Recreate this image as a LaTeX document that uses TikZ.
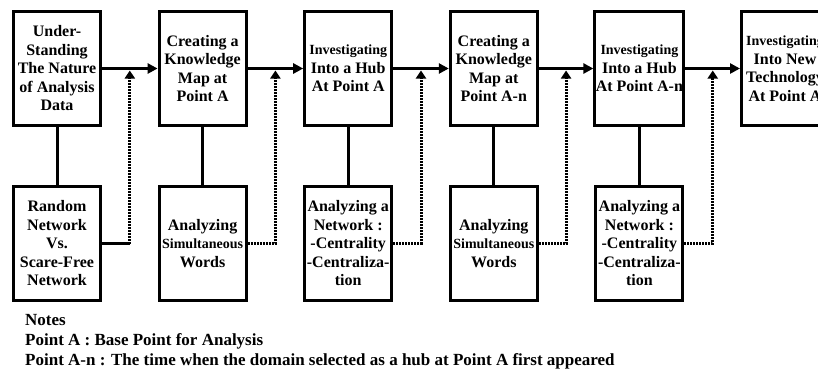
\documentclass[tikz,border=0pt]{standalone}
\usepackage{fontspec}
\setmainfont{Liberation Serif}
\usetikzlibrary{arrows.meta,calc}
\tikzset{
  stage/.style={draw,line width=3pt,minimum width=87pt,minimum height=114pt,inner sep=1pt,
    align=center,font=\fontsize{16}{18.5}\selectfont\bfseries},
  link/.style={line width=3pt},
  flow/.style={line width=3pt,-{Triangle[length=10pt,width=10pt]}},
  feed/.style={line width=3pt,dash pattern=on 2pt off 1pt,
    -{Triangle[length=8pt,width=10pt]},shorten >=2pt},
  note/.style={anchor=base west,inner sep=0pt,font=\fontsize{17}{20}\selectfont\bfseries}
}
\newcommand{\slim}[1]{{\fontsize{14}{18.5}\selectfont #1}}
\begin{document}
\begin{tikzpicture}[x=1pt,y=-1pt]
    \clip (0,0) rectangle (818,370);
    \node[stage] (t1) at (57,68.5) {Under-\\Standing\\The Nature\\of Analysis\\Data};
    \node[stage] (t2) at (202.6,68.5) {Creating a\\Knowledge\\Map at\\Point A};
    \node[stage] (t3) at (348.2,68.5) {\slim{Investigating}\\Into a Hub\\At Point A};
    \node[stage] (t4) at (493.8,68.5) {Creating a\\Knowledge\\Map at\\Point A-n};
    \node[stage] (t5) at (639.4,68.5) {\slim{Investigating}\\Into a Hub\\At Point A-n};
    \node[stage] (t6) at (785,68.5) {\slim{Investigating}\\Into New\\Technology\\At Point A};
    \node[stage] (b1) at (57,243.5) {Random\\Network\\Vs.\\Scare-Free\\Network};
    \node[stage] (b2) at (202.6,243.5) {Analyzing\\\slim{Simultaneous}\\Words};
    \node[stage] (b3) at (348.2,243.5) {Analyzing a\\Network :\\-Centrality\\-Centraliza-\\tion};
    \node[stage] (b4) at (493.8,243.5) {Analyzing\\\slim{Simultaneous}\\Words};
    \node[stage] (b5) at (639.4,243.5) {Analyzing a\\Network :\\-Centrality\\-Centraliza-\\tion};
    \foreach \i/\j in {1/2,2/3,3/4,4/5,5/6} {
        \draw[flow] (t\i) -- (t\j);
        \coordinate (j\i) at ($(t\i.east)!.5!(t\j.west)$);
    }
    \foreach \i in {1,...,5} {\draw[link] (t\i) -- (b\i);}
    \draw[link] (b1.east) -- (b1.east -| j1) coordinate (k1);
    \draw[feed] (k1) -- (j1);
    \foreach \i in {2,...,5} {\draw[feed] (b\i.east) -| (j\i);}
    \node[note] (n0) at (25,325) {Notes};
    \node[note] (n1) at (25,345) {Point A : Base Point for Analysis};
    \node[note] (n2) at (25,365) {Point A-n : The time when the domain selected as a hub at Point A first appeared};
\end{tikzpicture}
\end{document}
